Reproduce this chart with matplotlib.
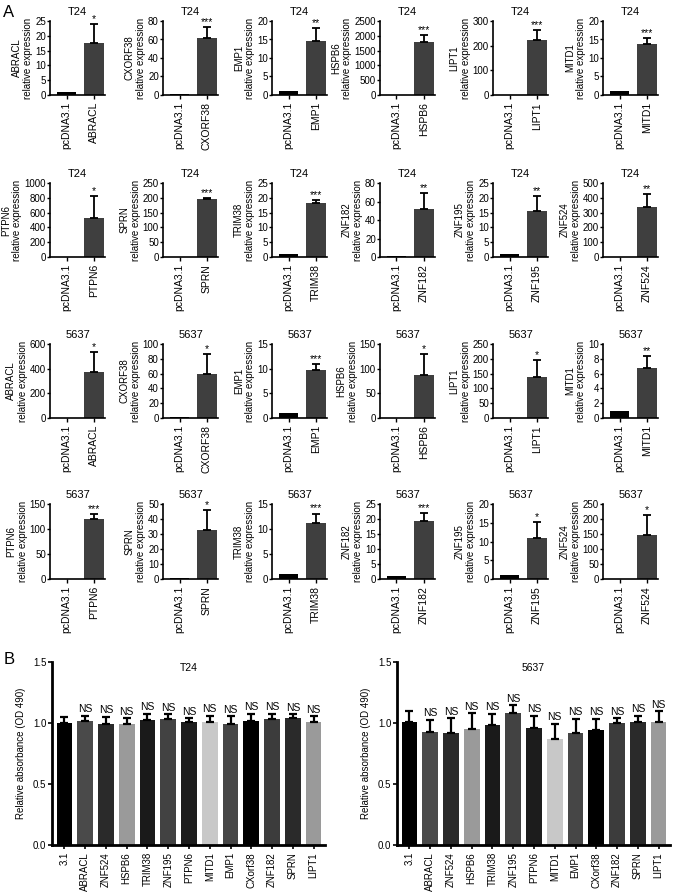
import numpy as np
import matplotlib.pyplot as plt

plt.rcParams['font.family'] = ['Liberation Sans', 'DejaVu Sans']

# panel A data
genes = ['ABRACL', 'CXORF38', 'EMP1', 'HSPB6', 'LIPT1', 'MITD1',
         'PTPN6', 'SPRN', 'TRIM38', 'ZNF182', 'ZNF195', 'ZNF524']
control = 'pcDNA3.1'
control_mean = 1.0

t24_mean = [17.5, 62, 14.6, 1780, 222, 13.8, 530, 195, 18.2, 52, 15.7, 338]
t24_err = [6.5, 11, 3.4, 250, 41, 1.6, 290, 5, 1.1, 17, 4.9, 90]
t24_sig = ['*', '***', '**', '***', '***', '***', '*', '***', '***', '**', '**', '**']
t24_ymax = [25, 80, 20, 2500, 300, 20, 1000, 250, 25, 80, 25, 500]
t24_step = [5, 20, 5, 500, 100, 5, 200, 50, 5, 20, 5, 100]

c5637_mean = [375, 59, 9.7, 88, 138, 6.7, 120, 33, 11.2, 19.3, 10.9, 147]
c5637_err = [158, 28, 1.3, 42, 57, 1.7, 10, 13, 1.9, 2.7, 4.2, 66]
c5637_sig = ['*', '*', '***', '*', '*', '**', '***', '*', '***', '***', '*', '*']
c5637_ymax = [600, 100, 15, 150, 250, 10, 150, 50, 15, 25, 20, 250]
c5637_step = [200, 20, 5, 50, 50, 2, 50, 10, 5, 5, 5, 50]

# panel B data
b_labels = ['3.1', 'ABRACL', 'ZNF524', 'HSPB6', 'TRIM38', 'ZNF195', 'PTPN6',
            'MITD1', 'EMP1', 'CXorf38', 'ZNF182', 'SPRN', 'LIPT1']
b_t24_mean = [1.00, 1.015, 0.995, 0.99, 1.025, 1.035, 1.01, 1.01, 0.995, 1.015, 1.03, 1.045, 1.01]
b_t24_err = [0.05, 0.045, 0.055, 0.05, 0.05, 0.035, 0.03, 0.05, 0.06, 0.06, 0.045, 0.025, 0.045]
b_5637_mean = [1.01, 0.93, 0.92, 0.95, 0.98, 1.085, 0.955, 0.865, 0.915, 0.94, 1.0, 1.005, 1.01]
b_5637_err = [0.085, 0.095, 0.12, 0.13, 0.095, 0.06, 0.105, 0.13, 0.12, 0.095, 0.04, 0.055, 0.085]
b_colors = ['#000000', '#4a4a4a', '#2a2a2a', '#9a9a9a', '#1a1a1a', '#424242', '#1c1c1c',
            '#c8c8c8', '#464646', '#000000', '#3c3c3c', '#2a2a2a', '#9a9a9a']

W, H = 677, 896
fig = plt.figure(figsize=(W / 100, H / 100), dpi=100)


def px_axes(x0, y0, x1, y1):
    return fig.add_axes([x0 / W, 1 - y1 / H, (x1 - x0) / W, (y1 - y0) / H])


def small_plot(ax, gene, mean, err, sig, ymax, step, cell):
    ax.bar([0, 1], [control_mean, mean], width=0.7,
           color=['#000000', '#3f3f3f'])
    ax.errorbar([1], [mean], yerr=[[0], [err]], fmt='none', ecolor='black',
                elinewidth=1.3, capsize=3, capthick=1.3)
    ax.text(1, mean + err, sig, ha='center', va='bottom', fontsize=7.5)
    ax.set_xlim(-0.6, 1.4)
    ax.set_ylim(0, ymax)
    ax.set_yticks(np.arange(0, ymax + step / 2, step))
    ax.set_xticks([0, 1])
    ax.set_xticklabels([control, gene], rotation=90, fontsize=7.5)
    ax.tick_params(axis='y', labelsize=7, length=2.5, width=1, pad=0.5)
    ax.tick_params(axis='x', length=3, width=1, pad=2)
    ax.set_ylabel(gene + '\nrelative expression', fontsize=7, labelpad=1.5,
                  linespacing=1.15)
    ax.set_title(cell, fontsize=8, pad=4)
    for s in ['top', 'right']:
        ax.spines[s].set_visible(False)
    for s in ['left', 'bottom']:
        ax.spines[s].set_linewidth(1.2)


col_left = [50, 163, 272, 380, 493, 603]
row_top = [21, 183, 344, 504]
row_bot = [95, 257, 418, 579]

for i in range(12):
    r, c = divmod(i, 6)
    ax = px_axes(col_left[c], row_top[r], col_left[c] + 55, row_bot[r])
    small_plot(ax, genes[i], t24_mean[i], t24_err[i], t24_sig[i],
               t24_ymax[i], t24_step[i], 'T24')
for i in range(12):
    r, c = divmod(i, 6)
    ax = px_axes(col_left[c], row_top[r + 2], col_left[c] + 55, row_bot[r + 2])
    small_plot(ax, genes[i], c5637_mean[i], c5637_err[i], c5637_sig[i],
               c5637_ymax[i], c5637_step[i], '5637')


def big_plot(ax, mean, err, cell):
    x = np.arange(len(b_labels))
    ax.bar(x, mean, width=0.76, color=b_colors)
    ax.errorbar(x, mean, yerr=[np.zeros(len(x)), err], fmt='none',
                ecolor='black', elinewidth=1.6, capsize=3, capthick=1.6)
    for xi, m, e in zip(x[1:], mean[1:], err[1:]):
        ax.text(xi, m + e + 0.012, 'NS', ha='center', va='bottom', fontsize=7.5)
    ax.set_xlim(-0.6, 12.55)
    ax.set_ylim(0, 1.5)
    ax.set_yticks([0, 0.5, 1.0, 1.5])
    ax.set_yticklabels(['0.0', '0.5', '1.0', '1.5'])
    ax.set_xticks(x)
    ax.set_xticklabels(b_labels, rotation=90, fontsize=7)
    ax.tick_params(axis='y', labelsize=7, length=3, width=1.2, pad=1)
    ax.tick_params(axis='x', length=3, width=1.2, pad=2)
    ax.set_ylabel('Relative absorbance (OD 490)', fontsize=7, labelpad=5)
    ax.text(0.5, 0.995, cell, transform=ax.transAxes, ha='center', va='top',
            fontsize=7.5)
    for s in ['top', 'right']:
        ax.spines[s].set_visible(False)
    for s in ['left', 'bottom']:
        ax.spines[s].set_linewidth(2)


axb1 = px_axes(52, 662, 325, 845)
big_plot(axb1, b_t24_mean, b_t24_err, 'T24')
axb2 = px_axes(397, 662, 670, 845)
big_plot(axb2, b_5637_mean, b_5637_err, '5637')

fig.text(3 / W, 1 - 5 / H, 'A', fontsize=12, va='top')
fig.text(4 / W, 1 - 652 / H, 'B', fontsize=12, va='top')

fig.savefig('out.png', dpi=100)
